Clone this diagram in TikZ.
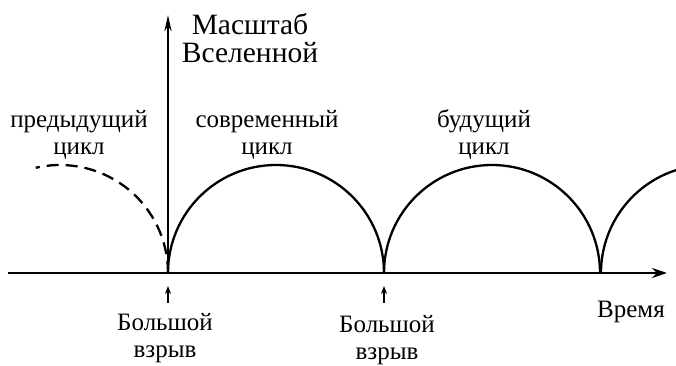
\documentclass[tikz,border=0pt]{standalone}
\usepackage{fontspec}
\setmainfont{Liberation Serif}
\usetikzlibrary{arrows.meta, positioning}

\begin{document}
\begin{tikzpicture}[x=1pt, y=1pt,
  lbl/.style={align=center, inner sep=0pt, anchor=base, font=\fontsize{25}{27}\selectfont},
  axis/.style={-{Stealth[length=15pt, width=10pt]}, line width=2.6pt},
  arch/.style={line width=2.3pt},
  bang/.style={-{Stealth[length=8pt, width=6pt]}, line width=1.5pt}
]
  \useasboundingbox (0,0) rectangle (676,365);

  \coordinate (tstart) at (8,92);
  \coordinate (tend) at (667,92);
  \coordinate (o) at (168,92);
  \coordinate (yend) at (168,350);
  \coordinate (c2) at (384,92);
  \coordinate (c3) at (601,92);

  % cycles
  \draw[arch, dash pattern=on 12pt off 7pt] (o) arc[start angle=0, end angle=103, radius=108];
  \draw[arch] (o) arc[start angle=180, end angle=0, radius=108];
  \draw[arch] (c2) arc[start angle=180, end angle=0, radius=108];
  \draw[arch] (c3) arc[start angle=180, end angle=107, radius=108];

  % axes
  \draw[axis] (tstart) -- (tend);
  \draw[axis, -{Stealth[length=16pt, width=7pt]}] (o) -- (yend);

  \node[lbl, font=\fontsize{29.5}{28}\selectfont] (scale) at (250,302) {Масштаб\\Вселенной};
  \node[lbl] (time) at (631,48) {Время};

  \node[lbl] (prev) at (79,211) {предыдущий\\цикл};
  \node[lbl] (now) at (267,211) {современный\\цикл};
  \node[lbl] (next) at (484,211) {будущий\\цикл};

  % big bangs
  \coordinate (b1) at (168,62);
  \coordinate (b2) at (384,62);
  \draw[bang] (b1) -- ++(0,17);
  \draw[bang] (b2) -- ++(0,17);
  \node[lbl] (bang1) at (165,8) {Большой\\взрыв};
  \node[lbl] (bang2) at (387,6) {Большой\\взрыв};
\end{tikzpicture}
\end{document}
